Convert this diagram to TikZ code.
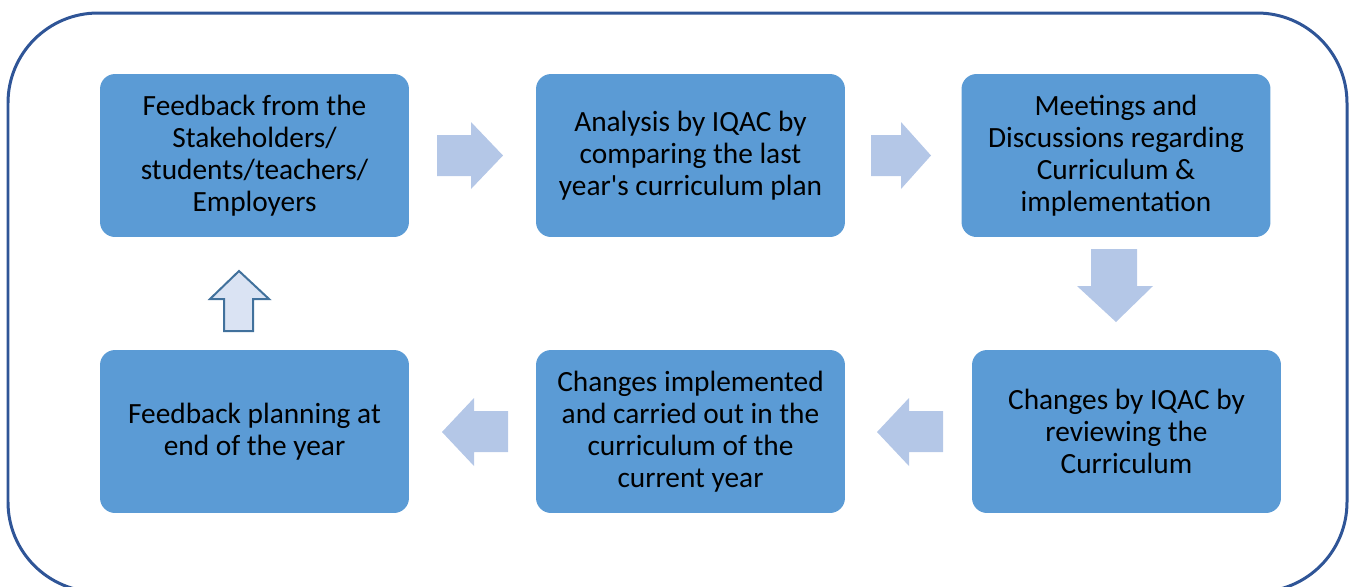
\documentclass[tikz,border=0pt]{standalone}
\usepackage{fontspec}
\setmainfont{Carlito}
\definecolor{caixa}{HTML}{5B9BD5}
\definecolor{setaazul}{HTML}{B4C7E7}
\definecolor{setaclara}{HTML}{DAE3F3}
\definecolor{setaborda}{HTML}{41719C}
\definecolor{moldura}{HTML}{2F5597}

\begin{document}
\begin{tikzpicture}[x=0.02cm,y=-0.02cm,
        etapa/.style={fill=caixa, rounded corners=0.3cm, minimum width=6.18cm, minimum height=3.26cm,
            align=center, inner sep=0pt, font=\fontsize{16.7}{18.2}\selectfont},
        seta/.style={fill=setaazul}]
        \useasboundingbox (0,0) rectangle (1350,586);
        % Moldura
        \draw[moldura, line width=0.06cm, rounded corners=1.8cm] (8,13) rectangle (1347,592);
        % Etapas de cima
        \node[etapa] (feedback) at (254.5,155.5) {Feedback from the\\Stakeholders/\\students/teachers/\\Employers};
        \node[etapa] (analise) at (690.5,155.5) {Analysis by IQAC by\\comparing the last\\year\textquotesingle s curriculum plan};
        \node[etapa] (reunioes) at (1116,155.5) {Meetings and\\Discussions regarding\\Curriculum \&\\implementation};
        % Etapas de baixo
        \node[etapa] (mudancas) at (1126.5,431.5) {Changes by IQAC by\\reviewing the\\Curriculum};
        \node[etapa] (implementadas) at (690.5,431.5) {Changes implemented\\and carried out in the\\curriculum of the\\current year};
        \node[etapa] (planejamento) at (254.5,431.5) {Feedback planning at\\end of the year};
        % Setas para a direita
        \fill[seta] (437,135) -- (471,135) -- (471,122) -- (503,155.5) -- (471,189) -- (471,176) -- (437,176) -- cycle;
        \fill[seta] (871,135) -- (901,135) -- (901,122) -- (931,155.5) -- (901,189) -- (901,176) -- (871,176) -- cycle;
        % Seta para baixo
        \fill[seta] (1091,249) -- (1137,249) -- (1137,286) -- (1153,286) -- (1116,322) -- (1077,286) -- (1091,286) -- cycle;
        % Setas para a esquerda
        \fill[seta] (943,411) -- (909,411) -- (909,398) -- (877,432) -- (909,466) -- (909,452) -- (943,452) -- cycle;
        \fill[seta] (508,411) -- (474,411) -- (474,398) -- (442,432) -- (474,466) -- (474,452) -- (508,452) -- cycle;
        % Seta para cima
        \filldraw[fill=setaclara, draw=setaborda, line width=0.04cm]
            (224,331) -- (224,299) -- (210,299) -- (239,271) -- (269,299) -- (253,299) -- (253,331) -- cycle;
    \end{tikzpicture}
\end{document}
